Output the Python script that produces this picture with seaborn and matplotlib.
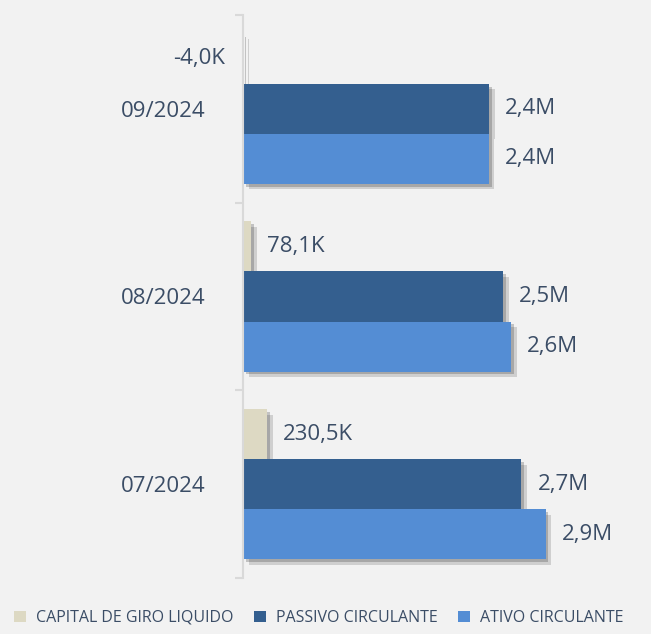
import matplotlib
matplotlib.use("Agg")
import matplotlib.pyplot as plt
import matplotlib.patheffects as pe
import seaborn as sns
import pandas as pd
from matplotlib.patches import Patch

meses = ["09/2024", "08/2024", "07/2024"]
series = ["CAPITAL DE GIRO LIQUIDO", "PASSIVO CIRCULANTE", "ATIVO CIRCULANTE"]
capital = [-4000, 78100, 230500]
passivo = [2356000, 2489000, 2665000]
ativo = [2352000, 2567100, 2895500]
cores = ["#ddd9c3", "#345f8f", "#548dd4"]

rows = []
for i, m in enumerate(meses):
    rows.append((m, series[0], capital[i]))
    rows.append((m, series[1], passivo[i]))
    rows.append((m, series[2], ativo[i]))
df = pd.DataFrame(rows, columns=["mes", "serie", "valor"])

sns.set_theme(style="white")
plt.rcParams["font.family"] = ["Open Sans", "DejaVu Sans"]
bg = "#f2f2f2"
txt = "#3b4d66"

fig = plt.figure(figsize=(6.51, 6.34), dpi=100, facecolor=bg)
ax = fig.add_axes([243 / 651, 56 / 634, 400 / 651, 563 / 634])
ax.set_facecolor(bg)

sns.barplot(data=df, y="mes", x="valor", hue="serie", order=meses,
            hue_order=series, palette=cores, orient="h", width=0.8,
            saturation=1, ax=ax, legend=False, linewidth=0, edgecolor="none")

for p in ax.patches:
    p.set_linewidth(0)
    p.set_path_effects([pe.SimplePatchShadow(offset=(4, -4), alpha=0.18, shadow_rgbFace="#333333"),
                        pe.SimplePatchShadow(offset=(2, -2), alpha=0.25, shadow_rgbFace="#333333"),
                        pe.Normal()])

def fmt(v):
    if abs(v) >= 1e6:
        s = f"{v/1e6:.1f}M"
    else:
        s = f"{v/1e3:.1f}K"
    return s.replace(".", ",")

for cont in ax.containers:
    labels = [fmt(b.get_width()) for b in cont]
    for b, lab in zip(cont, labels):
        w = b.get_width()
        y = b.get_y() + b.get_height() / 2
        if w < 0:
            ax.annotate(lab, (0, y), xytext=(-18, 0), textcoords="offset pixels",
                        ha="right", va="center", fontsize=16, color=txt)
        else:
            ax.annotate(lab, (w, y), xytext=(16, 0), textcoords="offset pixels",
                        ha="left", va="center", fontsize=16, color=txt)

ax.set_xlim(0, 400 / 104.5 * 1e6)
ax.set_ylim(2.5, -0.5)
ax.set_xlabel("")
ax.set_ylabel("")
ax.set_xticks([])
for s in ["top", "right", "bottom"]:
    ax.spines[s].set_visible(False)
ax.spines["left"].set_color("#d9d9d9")
ax.spines["left"].set_linewidth(1.5)
ax.set_yticks([-0.5, 0.5, 1.5, 2.5], minor=True)
ax.tick_params(axis="y", which="minor", length=6, width=1.5, color="#d9d9d9", left=True)
ax.tick_params(axis="y", which="major", length=0, pad=27, labelsize=16, labelcolor=txt)

handles = [Patch(facecolor=c, edgecolor="none") for c in cores]
fig.legend(handles, series, loc="lower left", bbox_to_anchor=(0.0, -0.01), ncol=3,
           frameon=False, handlelength=0.75, handleheight=0.75, handletextpad=0.6,
           columnspacing=1.3, fontsize=11.5, labelcolor=txt)

fig.savefig("out.png", dpi=100, facecolor=bg)
